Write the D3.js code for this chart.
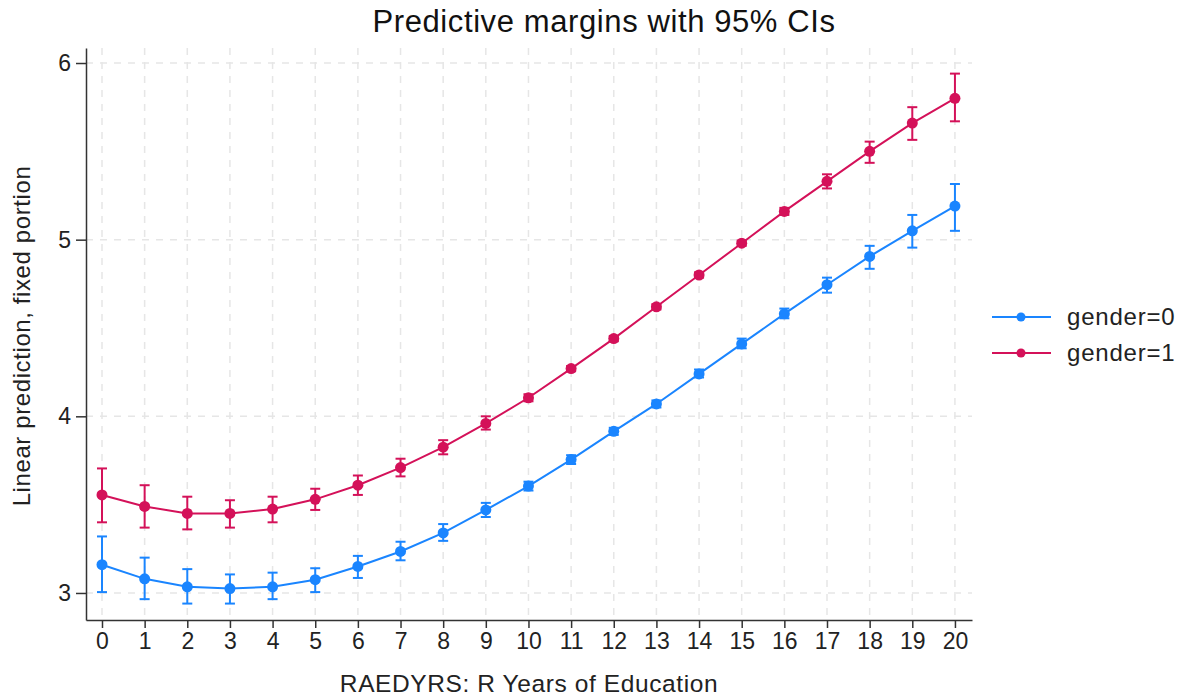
<!DOCTYPE html>
<html>
<head>
<meta charset="utf-8">
<script src="https://cdn.jsdelivr.net/npm/d3@7"></script>
<style>
  body { margin: 0; background: #fff; }
  svg { font-family: "Liberation Sans", Arial, sans-serif; }
  .grid line { stroke: #e6e6e6; stroke-width: 1.5; stroke-dasharray: 7,7; }
</style>
</head>
<body>
<div id="chart"></div>
<script>
// years of education
var years = d3.range(0, 21);

// gender=0 margins and 95% CIs
var g0 = [3.16, 3.08, 3.035, 3.025, 3.035, 3.075, 3.15, 3.235, 3.34, 3.47, 3.605, 3.755, 3.915, 4.07, 4.24, 4.41, 4.58, 4.745, 4.905, 5.05, 5.19];
var g0lo = [3.005, 2.965, 2.94, 2.94, 2.965, 3.005, 3.085, 3.185, 3.295, 3.43, 3.58, 3.73, 3.895, 4.05, 4.22, 4.385, 4.555, 4.70, 4.835, 4.955, 5.05];
var g0hi = [3.32, 3.20, 3.135, 3.105, 3.115, 3.14, 3.21, 3.29, 3.39, 3.51, 3.63, 3.78, 3.935, 4.09, 4.265, 4.44, 4.61, 4.785, 4.965, 5.14, 5.315];

// gender=1 margins and 95% CIs
var g1 = [3.555, 3.49, 3.45, 3.45, 3.475, 3.53, 3.61, 3.71, 3.825, 3.96, 4.105, 4.27, 4.44, 4.62, 4.80, 4.98, 5.16, 5.33, 5.50, 5.66, 5.80];
var g1lo = [3.40, 3.37, 3.36, 3.37, 3.40, 3.47, 3.555, 3.66, 3.785, 3.925, 4.085, 4.255, 4.425, 4.605, 4.785, 4.965, 5.14, 5.29, 5.435, 5.565, 5.67];
var g1hi = [3.705, 3.61, 3.545, 3.525, 3.545, 3.59, 3.665, 3.76, 3.865, 4.00, 4.125, 4.285, 4.455, 4.635, 4.815, 4.995, 5.18, 5.37, 5.555, 5.75, 5.94];

var yTicks = [3, 4, 5, 6];
var seriesNames = ["gender=0", "gender=1"];
var colors = ["#1a85ff", "#d41159"];

var W = 1186, H = 700;
var pLeft = 86, pRight = 972, pTop = 48, pBottom = 620;

var svg = d3.select("#chart").append("svg")
    .attr("width", W)
    .attr("height", H);

var x = d3.scaleLinear().domain([-0.375, 20.4]).range([pLeft, pRight]);
var y = d3.scaleLinear().domain([2.847, 6.085]).range([pBottom, pTop]);

// grid
var grid = svg.append("g").attr("class", "grid");
grid.selectAll(".vg").data(years).enter().append("line")
    .attr("x1", function(d) { return x(d); })
    .attr("x2", function(d) { return x(d); })
    .attr("y1", pTop).attr("y2", pBottom);
grid.selectAll(".hg").data(yTicks).enter().append("line")
    .attr("x1", pLeft).attr("x2", pRight)
    .attr("y1", function(d) { return y(d); })
    .attr("y2", function(d) { return y(d); });

// axes
var xAxis = svg.append("g")
    .attr("transform", "translate(0," + pBottom + ")")
    .call(d3.axisBottom(x).tickValues(years).tickFormat(d3.format("d")).tickSize(8).tickPadding(5).tickSizeOuter(0));
var yAxis = svg.append("g")
    .attr("transform", "translate(" + pLeft + ",0)")
    .call(d3.axisLeft(y).tickValues(yTicks).tickFormat(d3.format("d")).tickSize(10).tickPadding(5).tickSizeOuter(0));

[xAxis, yAxis].forEach(function(a) {
  a.select(".domain").attr("stroke", "#333").attr("stroke-width", 1.5);
  a.selectAll(".tick line").attr("stroke", "#333").attr("stroke-width", 1.5);
  a.selectAll(".tick text").attr("fill", "#222").style("font-size", "23px");
});

// series
var series = [
  { name: seriesNames[0], v: g0, lo: g0lo, hi: g0hi, color: colors[0] },
  { name: seriesNames[1], v: g1, lo: g1lo, hi: g1hi, color: colors[1] }
];

var line = d3.line()
    .x(function(d, i) { return x(years[i]); })
    .y(function(d) { return y(d); });

series.forEach(function(s) {
  var g = svg.append("g");
  // error bars
  years.forEach(function(yr, i) {
    g.append("line")
      .attr("x1", x(yr)).attr("x2", x(yr))
      .attr("y1", y(s.lo[i])).attr("y2", y(s.hi[i]))
      .attr("stroke", s.color).attr("stroke-width", 2);
    [s.lo[i], s.hi[i]].forEach(function(c) {
      g.append("line")
        .attr("x1", x(yr) - 5).attr("x2", x(yr) + 5)
        .attr("y1", y(c)).attr("y2", y(c))
        .attr("stroke", s.color).attr("stroke-width", 2);
    });
  });
  g.append("path")
    .datum(s.v)
    .attr("d", line)
    .attr("fill", "none")
    .attr("stroke", s.color)
    .attr("stroke-width", 2);
  g.selectAll("circle").data(s.v).enter().append("circle")
    .attr("cx", function(d, i) { return x(years[i]); })
    .attr("cy", function(d) { return y(d); })
    .attr("r", 5.5)
    .attr("fill", s.color);
});

// legend
var legend = svg.append("g");
series.forEach(function(s, i) {
  var ly = 317 + i * 36;
  legend.append("line")
    .attr("x1", 992).attr("x2", 1051).attr("y1", ly).attr("y2", ly)
    .attr("stroke", s.color).attr("stroke-width", 2);
  legend.append("circle")
    .attr("cx", 1021).attr("cy", ly).attr("r", 4.5).attr("fill", s.color);
  legend.append("text")
    .attr("x", 1067).attr("y", ly + 8)
    .style("font-size", "24px").style("letter-spacing", "0.8px").attr("fill", "#222")
    .text(s.name);
});

// titles
svg.append("text")
    .attr("x", 604).attr("y", 32)
    .attr("text-anchor", "middle")
    .style("font-size", "31px").style("letter-spacing", "0.6px").attr("fill", "#111")
    .text("Predictive margins with 95% CIs");

svg.append("text")
    .attr("x", 529).attr("y", 692)
    .attr("text-anchor", "middle")
    .style("font-size", "24.5px").style("letter-spacing", "0.6px").attr("fill", "#222")
    .text("RAEDYRS: R Years of Education");

svg.append("text")
    .attr("transform", "translate(30,336) rotate(-90)")
    .attr("text-anchor", "middle")
    .style("font-size", "24px").style("letter-spacing", "0.6px").attr("fill", "#222")
    .text("Linear prediction, fixed portion");
</script>
</body>
</html>
